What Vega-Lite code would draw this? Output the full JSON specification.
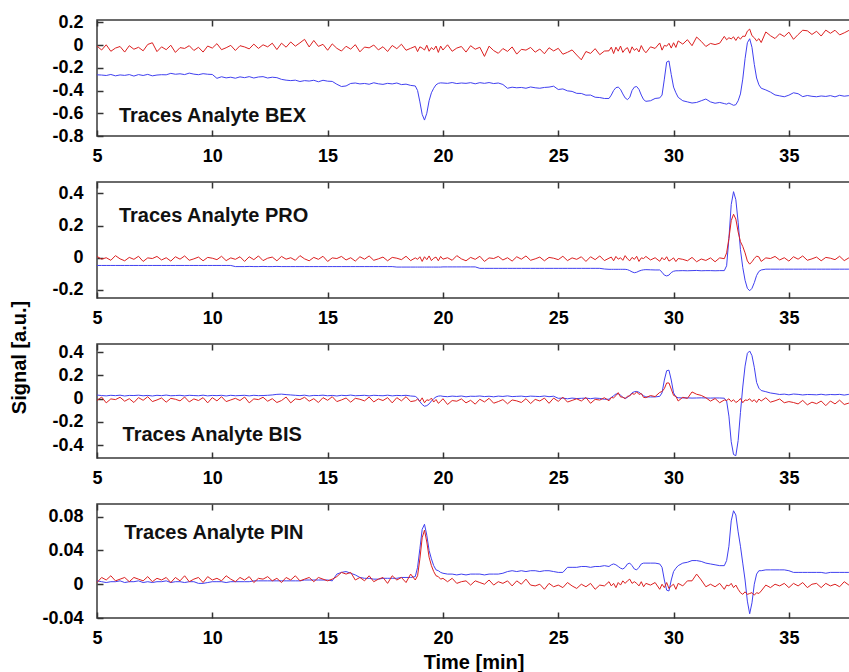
{
"$schema":"https://vega.github.io/schema/vega-lite/v6.json",
"background":"white",
"padding":{"left":8,"top":12,"right":0,"bottom":0},
"bounds":"flush",
"spacing":46,
"config":{
"view":{"stroke":"#3a3a3a","strokeWidth":1.5},
"axis":{"labelFont":"Liberation Sans","labelFontSize":18,"labelFontWeight":"bold","labelColor":"#000000","ticks":true,"tickColor":"#333333","tickSize":6,"offset":-6,"tickWidth":1.5,"domain":false,"grid":false,"labelOverlap":false,"labelFlush":false,"titleFont":"Liberation Sans","titleFontSize":20,"titleFontWeight":"bold","titleColor":"#000000"},
"line":{"strokeWidth":1,"clip":true},
"text":{"font":"Liberation Sans","fontSize":20,"fontWeight":"bold","align":"left","baseline":"alphabetic","fill":"#111111"}
},
"datasets":{"d":[
{"t":5.0,"r1":-0.009,"b1":-0.262,"r2":0.008,"b2":-0.048,"r3":-0.016,"b3":0.031,"r4":0.002,"b4":0.004},
{"t":5.2,"r1":-0.044,"b1":-0.264,"r2":-0.009,"b2":-0.048,"r3":0.014,"b3":0.027,"r4":0.008,"b4":0.003},
{"t":5.4,"r1":0.002,"b1":-0.268,"r2":0.000,"b2":-0.048,"r3":-0.036,"b3":0.024,"r4":0.005,"b4":0.002},
{"t":5.6,"r1":-0.055,"b1":-0.259,"r2":-0.016,"b2":-0.048,"r3":-0.002,"b3":0.029,"r4":0.010,"b4":0.003},
{"t":5.8,"r1":-0.027,"b1":-0.271,"r2":0.013,"b2":-0.048,"r3":-0.008,"b3":0.026,"r4":0.004,"b4":0.003},
{"t":6.0,"r1":-0.013,"b1":-0.263,"r2":-0.007,"b2":-0.048,"r3":0.012,"b3":0.030,"r4":0.006,"b4":0.004},
{"t":6.2,"r1":-0.062,"b1":-0.267,"r2":-0.019,"b2":-0.048,"r3":-0.022,"b3":0.023,"r4":0.008,"b4":0.002},
{"t":6.4,"r1":-0.006,"b1":-0.260,"r2":0.002,"b2":-0.048,"r3":0.000,"b3":0.028,"r4":0.003,"b4":0.003},
{"t":6.6,"r1":-0.037,"b1":-0.273,"r2":-0.010,"b2":-0.048,"r3":-0.033,"b3":0.027,"r4":0.008,"b4":0.003},
{"t":6.8,"r1":-0.020,"b1":-0.260,"r2":0.009,"b2":-0.048,"r3":0.009,"b3":0.030,"r4":0.006,"b4":0.004},
{"t":7.0,"r1":-0.051,"b1":-0.268,"r2":-0.023,"b2":-0.048,"r3":-0.014,"b3":0.025,"r4":0.004,"b4":0.002},
{"t":7.2,"r1":0.005,"b1":-0.258,"r2":-0.001,"b2":-0.048,"r3":0.017,"b3":0.028,"r4":0.009,"b4":0.003},
{"t":7.4,"r1":0.020,"b1":-0.271,"r2":-0.005,"b2":-0.048,"r3":-0.025,"b3":0.023,"r4":0.003,"b4":0.002},
{"t":7.6,"r1":-0.058,"b1":-0.264,"r2":0.008,"b2":-0.048,"r3":-0.011,"b3":0.029,"r4":0.007,"b4":0.003},
{"t":7.8,"r1":-0.016,"b1":-0.261,"r2":-0.014,"b2":-0.048,"r3":0.006,"b3":0.026,"r4":0.005,"b4":0.003},
{"t":8.0,"r1":-0.041,"b1":-0.262,"r2":0.000,"b2":-0.048,"r3":-0.030,"b3":0.031,"r4":0.008,"b4":0.004},
{"t":8.2,"r1":-0.002,"b1":-0.249,"r2":-0.021,"b2":-0.048,"r3":0.003,"b3":0.025,"r4":0.002,"b4":0.002},
{"t":8.4,"r1":-0.065,"b1":-0.257,"r2":0.006,"b2":-0.048,"r3":-0.005,"b3":0.027,"r4":0.008,"b4":0.003},
{"t":8.6,"r1":-0.023,"b1":-0.253,"r2":-0.009,"b2":-0.048,"r3":-0.019,"b3":0.029,"r4":0.004,"b4":0.003},
{"t":8.8,"r1":-0.030,"b1":-0.260,"r2":0.011,"b2":-0.048,"r3":0.014,"b3":0.024,"r4":0.010,"b4":0.002},
{"t":9.0,"r1":-0.006,"b1":-0.247,"r2":-0.016,"b2":-0.048,"r3":-0.028,"b3":0.029,"r4":0.003,"b4":0.003},
{"t":9.2,"r1":-0.048,"b1":-0.256,"r2":-0.007,"b2":-0.048,"r3":-0.002,"b3":0.027,"r4":0.006,"b4":0.003},
{"t":9.4,"r1":-0.020,"b1":-0.261,"r2":0.004,"b2":-0.048,"r3":-0.016,"b3":0.025,"r4":0.008,"b4":0.001},
{"t":9.6,"r1":-0.062,"b1":-0.252,"r2":-0.019,"b2":-0.048,"r3":0.009,"b3":0.030,"r4":0.002,"b4":0.001},
{"t":9.8,"r1":-0.009,"b1":-0.257,"r2":0.002,"b2":-0.048,"r3":-0.036,"b3":0.024,"r4":0.009,"b4":0.002},
{"t":10.0,"r1":-0.027,"b1":-0.259,"r2":-0.003,"b2":-0.048,"r3":0.009,"b3":0.028,"r4":0.005,"b4":0.003},
{"t":10.2,"r1":0.012,"b1":-0.293,"r2":-0.012,"b2":-0.048,"r3":-0.019,"b3":0.026,"r4":0.007,"b4":0.003},
{"t":10.4,"r1":-0.041,"b1":-0.279,"r2":0.009,"b2":-0.048,"r3":0.017,"b3":0.029,"r4":0.004,"b4":0.003},
{"t":10.6,"r1":-0.024,"b1":-0.289,"r2":-0.018,"b2":-0.048,"r3":-0.025,"b3":0.023,"r4":0.010,"b4":0.002},
{"t":10.8,"r1":-0.003,"b1":-0.283,"r2":-0.001,"b2":-0.048,"r3":-0.011,"b3":0.029,"r4":0.006,"b4":0.003},
{"t":11.0,"r1":-0.048,"b1":-0.292,"r2":-0.010,"b2":-0.055,"r3":0.003,"b3":0.025,"r4":0.003,"b4":0.003},
{"t":11.2,"r1":-0.006,"b1":-0.280,"r2":0.006,"b2":-0.055,"r3":-0.016,"b3":0.027,"r4":0.008,"b4":0.003},
{"t":11.4,"r1":-0.017,"b1":-0.287,"r2":-0.023,"b2":-0.055,"r3":0.014,"b3":0.029,"r4":0.005,"b4":0.003},
{"t":11.6,"r1":-0.034,"b1":-0.278,"r2":0.006,"b2":-0.054,"r3":-0.036,"b3":0.024,"r4":0.009,"b4":0.003},
{"t":11.8,"r1":0.008,"b1":-0.290,"r2":-0.012,"b2":-0.055,"r3":-0.002,"b3":0.029,"r4":0.002,"b4":0.004},
{"t":12.0,"r1":-0.030,"b1":-0.281,"r2":0.011,"b2":-0.055,"r3":-0.008,"b3":0.026,"r4":0.007,"b4":0.004},
{"t":12.2,"r1":0.002,"b1":-0.278,"r2":-0.018,"b2":-0.054,"r3":0.012,"b3":0.027,"r4":0.006,"b4":0.004},
{"t":12.4,"r1":-0.016,"b1":-0.290,"r2":-0.003,"b2":-0.055,"r3":-0.022,"b3":0.029,"r4":0.009,"b4":0.004},
{"t":12.6,"r1":0.016,"b1":-0.283,"r2":0.004,"b2":-0.055,"r3":0.000,"b3":0.032,"r4":0.004,"b4":0.004},
{"t":12.8,"r1":-0.040,"b1":-0.287,"r2":-0.019,"b2":-0.054,"r3":-0.033,"b3":0.037,"r4":0.007,"b4":0.004},
{"t":13.0,"r1":0.016,"b1":-0.302,"r2":0.008,"b2":-0.055,"r3":-0.016,"b3":0.039,"r4":0.002,"b4":0.004},
{"t":13.2,"r1":-0.019,"b1":-0.309,"r2":-0.009,"b2":-0.055,"r3":0.014,"b3":0.035,"r4":0.008,"b4":0.004},
{"t":13.4,"r1":0.027,"b1":-0.313,"r2":0.000,"b2":-0.055,"r3":-0.036,"b3":0.032,"r4":0.005,"b4":0.004},
{"t":13.6,"r1":-0.010,"b1":-0.309,"r2":-0.016,"b2":-0.055,"r3":-0.002,"b3":0.029,"r4":0.010,"b4":0.004},
{"t":13.8,"r1":0.019,"b1":-0.321,"r2":0.013,"b2":-0.055,"r3":-0.008,"b3":0.026,"r4":0.004,"b4":0.004},
{"t":14.0,"r1":0.050,"b1":-0.313,"r2":-0.007,"b2":-0.055,"r3":0.012,"b3":0.030,"r4":0.006,"b4":0.005},
{"t":14.2,"r1":-0.017,"b1":-0.317,"r2":-0.019,"b2":-0.055,"r3":-0.022,"b3":0.023,"r4":0.008,"b4":0.005},
{"t":14.4,"r1":0.040,"b1":-0.310,"r2":0.002,"b2":-0.055,"r3":0.000,"b3":0.028,"r4":0.003,"b4":0.005},
{"t":14.6,"r1":-0.012,"b1":-0.323,"r2":-0.010,"b2":-0.055,"r3":-0.033,"b3":0.027,"r4":0.008,"b4":0.005},
{"t":14.8,"r1":0.006,"b1":-0.310,"r2":0.009,"b2":-0.055,"r3":0.009,"b3":0.030,"r4":0.006,"b4":0.005},
{"t":15.0,"r1":-0.046,"b1":-0.318,"r2":-0.023,"b2":-0.055,"r3":-0.014,"b3":0.025,"r4":0.004,"b4":0.005},
{"t":15.2,"r1":0.010,"b1":-0.320,"r2":-0.001,"b2":-0.055,"r3":0.017,"b3":0.028,"r4":0.006,"b4":0.004},
{"t":15.4,"r1":-0.029,"b1":-0.345,"r2":-0.005,"b2":-0.055,"r3":-0.025,"b3":0.023,"r4":0.009,"b4":0.012},
{"t":15.6,"r1":-0.053,"b1":-0.365,"r2":0.008,"b2":-0.055,"r3":-0.011,"b3":0.029,"r4":0.014,"b4":0.014},
{"t":15.8,"r1":-0.011,"b1":-0.360,"r2":-0.014,"b2":-0.055,"r3":0.006,"b3":0.026,"r4":0.012,"b4":0.015},
{"t":16.0,"r1":-0.036,"b1":-0.338,"r2":0.000,"b2":-0.055,"r3":-0.030,"b3":0.031,"r4":0.014,"b4":0.013},
{"t":16.2,"r1":0.003,"b1":-0.334,"r2":-0.021,"b2":-0.055,"r3":0.003,"b3":0.025,"r4":0.005,"b4":0.011},
{"t":16.4,"r1":-0.060,"b1":-0.342,"r2":0.006,"b2":-0.055,"r3":-0.005,"b3":0.027,"r4":0.008,"b4":0.008},
{"t":16.6,"r1":-0.018,"b1":-0.338,"r2":-0.009,"b2":-0.055,"r3":-0.019,"b3":0.029,"r4":0.004,"b4":0.007},
{"t":16.8,"r1":-0.025,"b1":-0.345,"r2":0.011,"b2":-0.055,"r3":0.014,"b3":0.024,"r4":0.010,"b4":0.007},
{"t":17.0,"r1":0.000,"b1":-0.332,"r2":-0.016,"b2":-0.055,"r3":-0.028,"b3":0.029,"r4":0.003,"b4":0.006},
{"t":17.2,"r1":-0.043,"b1":-0.341,"r2":-0.007,"b2":-0.055,"r3":-0.002,"b3":0.027,"r4":0.006,"b4":0.006},
{"t":17.4,"r1":-0.015,"b1":-0.346,"r2":0.004,"b2":-0.055,"r3":-0.016,"b3":0.025,"r4":0.008,"b4":0.007},
{"t":17.6,"r1":-0.057,"b1":-0.337,"r2":-0.019,"b2":-0.055,"r3":0.009,"b3":0.030,"r4":0.001,"b4":0.007},
{"t":17.8,"r1":-0.004,"b1":-0.342,"r2":0.002,"b2":-0.055,"r3":-0.036,"b3":0.024,"r4":0.010,"b4":0.007},
{"t":18.0,"r1":-0.032,"b1":-0.334,"r2":-0.003,"b2":-0.058,"r3":0.009,"b3":0.028,"r4":0.005,"b4":0.007},
{"t":18.2,"r1":0.007,"b1":-0.348,"r2":-0.012,"b2":-0.058,"r3":-0.019,"b3":0.026,"r4":0.008,"b4":0.008},
{"t":18.4,"r1":-0.046,"b1":-0.344,"r2":0.009,"b2":-0.058,"r3":0.017,"b3":0.029,"r4":0.002,"b4":0.008},
{"t":18.6,"r1":-0.029,"b1":-0.355,"r2":-0.018,"b2":-0.058,"r3":-0.025,"b3":0.023,"r4":0.012,"b4":0.008},
{"t":18.8,"r1":-0.012,"b1":-0.360,"r2":-0.001,"b2":-0.058,"r3":-0.018,"b3":0.020,"r4":0.005,"b4":0.009},
{"t":18.9,"r1":-0.058,"b1":-0.400,"r2":-0.010,"b2":-0.058,"r3":-0.004,"b3":0.005,"r4":0.010,"b4":0.020},
{"t":19.0,"r1":-0.016,"b1":-0.500,"r2":0.006,"b2":-0.058,"r3":-0.023,"b3":-0.025,"r4":0.030,"b4":0.042},
{"t":19.1,"r1":-0.027,"b1":-0.610,"r2":-0.023,"b2":-0.058,"r3":0.007,"b3":-0.050,"r4":0.055,"b4":0.065},
{"t":19.2,"r1":-0.044,"b1":-0.660,"r2":0.006,"b2":-0.058,"r3":-0.035,"b3":-0.065,"r4":0.064,"b4":0.071},
{"t":19.3,"r1":-0.002,"b1":-0.600,"r2":-0.012,"b2":-0.058,"r3":-0.010,"b3":-0.060,"r4":0.050,"b4":0.058},
{"t":19.4,"r1":-0.055,"b1":-0.490,"r2":0.011,"b2":-0.058,"r3":-0.015,"b3":-0.045,"r4":0.032,"b4":0.040},
{"t":19.5,"r1":-0.023,"b1":-0.420,"r2":-0.018,"b2":-0.058,"r3":0.005,"b3":-0.020,"r4":0.022,"b4":0.030},
{"t":19.6,"r1":-0.041,"b1":-0.380,"r2":-0.003,"b2":-0.058,"r3":-0.029,"b3":0.000,"r4":0.015,"b4":0.022},
{"t":19.7,"r1":-0.009,"b1":-0.350,"r2":0.004,"b2":-0.058,"r3":-0.007,"b3":0.015,"r4":0.010,"b4":0.017},
{"t":19.8,"r1":-0.065,"b1":-0.337,"r2":-0.019,"b2":-0.058,"r3":-0.040,"b3":0.022,"r4":0.009,"b4":0.016},
{"t":19.9,"r1":-0.009,"b1":-0.333,"r2":0.008,"b2":-0.058,"r3":-0.023,"b3":0.024,"r4":0.006,"b4":0.014},
{"t":20.0,"r1":-0.044,"b1":-0.334,"r2":-0.009,"b2":-0.057,"r3":0.000,"b3":0.020,"r4":0.007,"b4":0.013},
{"t":20.2,"r1":0.002,"b1":-0.337,"r2":0.000,"b2":-0.057,"r3":-0.050,"b3":0.017,"r4":0.003,"b4":0.012},
{"t":20.4,"r1":-0.055,"b1":-0.330,"r2":-0.016,"b2":-0.057,"r3":-0.016,"b3":0.022,"r4":0.007,"b4":0.012},
{"t":20.6,"r1":-0.027,"b1":-0.339,"r2":0.013,"b2":-0.057,"r3":-0.022,"b3":0.019,"r4":0.001,"b4":0.011},
{"t":20.8,"r1":-0.013,"b1":-0.334,"r2":-0.007,"b2":-0.057,"r3":-0.002,"b3":0.023,"r4":0.003,"b4":0.012},
{"t":21.0,"r1":-0.062,"b1":-0.337,"r2":-0.019,"b2":-0.057,"r3":-0.036,"b3":0.016,"r4":0.004,"b4":0.011},
{"t":21.2,"r1":-0.006,"b1":-0.331,"r2":0.002,"b2":-0.057,"r3":-0.014,"b3":0.021,"r4":-0.001,"b4":0.012},
{"t":21.4,"r1":-0.037,"b1":-0.341,"r2":-0.010,"b2":-0.057,"r3":-0.047,"b3":0.020,"r4":0.004,"b4":0.012},
{"t":21.6,"r1":-0.020,"b1":-0.331,"r2":0.009,"b2":-0.066,"r3":-0.005,"b3":0.023,"r4":0.002,"b4":0.012},
{"t":21.8,"r1":-0.100,"b1":-0.337,"r2":-0.023,"b2":-0.066,"r3":-0.028,"b3":0.018,"r4":0.000,"b4":0.011},
{"t":22.0,"r1":-0.010,"b1":-0.330,"r2":-0.001,"b2":-0.066,"r3":0.003,"b3":0.021,"r4":0.005,"b4":0.012},
{"t":22.2,"r1":-0.049,"b1":-0.339,"r2":-0.005,"b2":-0.066,"r3":-0.039,"b3":0.016,"r4":-0.001,"b4":0.012},
{"t":22.4,"r1":-0.073,"b1":-0.334,"r2":0.008,"b2":-0.066,"r3":-0.025,"b3":0.022,"r4":0.003,"b4":0.012},
{"t":22.6,"r1":-0.031,"b1":-0.347,"r2":-0.014,"b2":-0.066,"r3":-0.008,"b3":0.019,"r4":0.001,"b4":0.013},
{"t":22.8,"r1":-0.056,"b1":-0.380,"r2":0.000,"b2":-0.066,"r3":-0.044,"b3":0.024,"r4":0.004,"b4":0.015},
{"t":23.0,"r1":-0.017,"b1":-0.371,"r2":-0.021,"b2":-0.066,"r3":-0.011,"b3":0.018,"r4":-0.002,"b4":0.016},
{"t":23.2,"r1":-0.080,"b1":-0.376,"r2":0.006,"b2":-0.066,"r3":-0.019,"b3":0.020,"r4":0.004,"b4":0.015},
{"t":23.4,"r1":-0.038,"b1":-0.373,"r2":-0.009,"b2":-0.066,"r3":-0.033,"b3":0.022,"r4":0.000,"b4":0.016},
{"t":23.6,"r1":-0.045,"b1":-0.380,"r2":0.011,"b2":-0.066,"r3":0.000,"b3":0.017,"r4":0.006,"b4":0.015},
{"t":23.8,"r1":-0.021,"b1":-0.369,"r2":-0.016,"b2":-0.066,"r3":-0.042,"b3":0.022,"r4":-0.001,"b4":0.016},
{"t":24.0,"r1":-0.063,"b1":-0.376,"r2":-0.007,"b2":-0.066,"r3":-0.006,"b3":0.020,"r4":-0.002,"b4":0.016},
{"t":24.2,"r1":-0.035,"b1":-0.380,"r2":0.004,"b2":-0.066,"r3":-0.020,"b3":0.018,"r4":0.000,"b4":0.015},
{"t":24.4,"r1":-0.077,"b1":-0.373,"r2":-0.019,"b2":-0.066,"r3":0.005,"b3":0.023,"r4":-0.006,"b4":0.016},
{"t":24.6,"r1":-0.024,"b1":-0.370,"r2":0.002,"b2":-0.066,"r3":-0.040,"b3":0.017,"r4":0.001,"b4":0.016},
{"t":24.8,"r1":-0.052,"b1":-0.362,"r2":-0.003,"b2":-0.066,"r3":0.005,"b3":0.021,"r4":-0.003,"b4":0.015},
{"t":25.0,"r1":-0.029,"b1":-0.391,"r2":-0.012,"b2":-0.066,"r3":-0.023,"b3":0.003,"r4":-0.001,"b4":0.014},
{"t":25.2,"r1":-0.081,"b1":-0.386,"r2":0.009,"b2":-0.066,"r3":0.013,"b3":0.005,"r4":-0.004,"b4":0.014},
{"t":25.4,"r1":-0.064,"b1":-0.403,"r2":-0.018,"b2":-0.066,"r3":-0.029,"b3":-0.001,"r4":0.002,"b4":0.020},
{"t":25.6,"r1":-0.043,"b1":-0.408,"r2":-0.001,"b2":-0.066,"r3":-0.015,"b3":0.005,"r4":-0.002,"b4":0.020},
{"t":25.8,"r1":-0.088,"b1":-0.425,"r2":-0.010,"b2":-0.066,"r3":-0.001,"b3":0.001,"r4":-0.005,"b4":0.020},
{"t":26.0,"r1":-0.130,"b1":-0.426,"r2":0.006,"b2":-0.066,"r3":-0.020,"b3":0.003,"r4":0.000,"b4":0.021},
{"t":26.2,"r1":-0.057,"b1":-0.441,"r2":-0.023,"b2":-0.066,"r3":0.010,"b3":0.005,"r4":-0.003,"b4":0.021},
{"t":26.4,"r1":-0.074,"b1":-0.440,"r2":0.006,"b2":-0.066,"r3":-0.040,"b3":0.000,"r4":0.001,"b4":0.020},
{"t":26.6,"r1":-0.032,"b1":-0.459,"r2":-0.012,"b2":-0.066,"r3":-0.006,"b3":0.005,"r4":-0.006,"b4":0.021},
{"t":26.8,"r1":-0.085,"b1":-0.462,"r2":0.011,"b2":-0.066,"r3":-0.012,"b3":0.002,"r4":-0.001,"b4":0.021},
{"t":27.0,"r1":-0.053,"b1":-0.470,"r2":-0.018,"b2":-0.070,"r3":0.008,"b3":-0.005,"r4":-0.002,"b4":0.022},
{"t":27.2,"r1":-0.051,"b1":-0.470,"r2":-0.003,"b2":-0.072,"r3":-0.018,"b3":-0.005,"r4":0.003,"b4":0.021},
{"t":27.3,"r1":-0.019,"b1":-0.440,"r2":0.004,"b2":-0.072,"r3":0.010,"b3":0.010,"r4":-0.002,"b4":0.023},
{"t":27.4,"r1":-0.075,"b1":-0.400,"r2":-0.019,"b2":-0.072,"r3":0.007,"b3":0.025,"r4":0.001,"b4":0.024},
{"t":27.5,"r1":-0.019,"b1":-0.375,"r2":0.008,"b2":-0.072,"r3":0.026,"b3":0.040,"r4":-0.004,"b4":0.023},
{"t":27.6,"r1":-0.054,"b1":-0.370,"r2":-0.009,"b2":-0.072,"r3":0.052,"b3":0.042,"r4":0.002,"b4":0.021},
{"t":27.7,"r1":-0.009,"b1":-0.390,"r2":0.000,"b2":-0.072,"r3":0.015,"b3":0.030,"r4":-0.001,"b4":0.019},
{"t":27.8,"r1":-0.065,"b1":-0.430,"r2":-0.016,"b2":-0.072,"r3":0.013,"b3":0.012,"r4":0.004,"b4":0.018},
{"t":27.9,"r1":-0.037,"b1":-0.465,"r2":0.013,"b2":-0.072,"r3":0.000,"b3":0.003,"r4":0.001,"b4":0.020},
{"t":28.0,"r1":-0.023,"b1":-0.480,"r2":-0.007,"b2":-0.074,"r3":0.021,"b3":0.010,"r4":0.004,"b4":0.024},
{"t":28.1,"r1":-0.072,"b1":-0.460,"r2":-0.019,"b2":-0.080,"r3":0.023,"b3":0.030,"r4":0.006,"b4":0.025},
{"t":28.2,"r1":-0.016,"b1":-0.400,"r2":0.002,"b2":-0.088,"r3":0.045,"b3":0.050,"r4":0.001,"b4":0.022},
{"t":28.3,"r1":-0.047,"b1":-0.370,"r2":-0.010,"b2":-0.093,"r3":0.037,"b3":0.060,"r4":0.003,"b4":0.018},
{"t":28.4,"r1":-0.030,"b1":-0.365,"r2":0.009,"b2":-0.090,"r3":0.059,"b3":0.062,"r4":0.001,"b4":0.017},
{"t":28.5,"r1":-0.061,"b1":-0.390,"r2":-0.023,"b2":-0.083,"r3":0.037,"b3":0.055,"r4":-0.002,"b4":0.020},
{"t":28.6,"r1":-0.005,"b1":-0.440,"r2":-0.001,"b2":-0.078,"r3":0.044,"b3":0.040,"r4":0.003,"b4":0.024},
{"t":28.7,"r1":-0.044,"b1":-0.480,"r2":-0.005,"b2":-0.075,"r3":0.011,"b3":0.025,"r4":-0.003,"b4":0.025},
{"t":28.8,"r1":-0.068,"b1":-0.495,"r2":0.008,"b2":-0.074,"r3":0.009,"b3":0.015,"r4":0.001,"b4":0.025},
{"t":29.0,"r1":-0.016,"b1":-0.490,"r2":-0.014,"b2":-0.075,"r3":0.027,"b3":0.015,"r4":-0.001,"b4":0.025},
{"t":29.2,"r1":-0.030,"b1":-0.470,"r2":0.000,"b2":-0.076,"r3":0.018,"b3":0.015,"r4":0.002,"b4":0.025},
{"t":29.4,"r1":0.018,"b1":-0.465,"r2":-0.022,"b2":-0.076,"r3":0.054,"b3":0.020,"r4":-0.006,"b4":0.024},
{"t":29.5,"r1":-0.045,"b1":-0.440,"r2":0.001,"b2":-0.090,"r3":0.061,"b3":0.050,"r4":0.000,"b4":0.020},
{"t":29.6,"r1":-0.003,"b1":-0.300,"r2":-0.014,"b2":-0.108,"r3":0.086,"b3":0.160,"r4":-0.004,"b4":0.005},
{"t":29.7,"r1":-0.010,"b1":-0.150,"r2":0.006,"b2":-0.113,"r3":0.135,"b3":0.240,"r4":0.002,"b4":-0.007},
{"t":29.8,"r1":0.015,"b1":-0.140,"r2":-0.021,"b2":-0.108,"r3":0.135,"b3":0.245,"r4":-0.005,"b4":-0.008},
{"t":29.9,"r1":-0.027,"b1":-0.260,"r2":-0.012,"b2":-0.092,"r3":0.082,"b3":0.160,"r4":-0.002,"b4":0.005},
{"t":30.0,"r1":0.020,"b1":-0.370,"r2":-0.001,"b2":-0.084,"r3":0.028,"b3":0.050,"r4":0.000,"b4":0.015},
{"t":30.1,"r1":-0.021,"b1":-0.420,"r2":-0.024,"b2":-0.081,"r3":0.020,"b3":0.015,"r4":-0.006,"b4":0.019},
{"t":30.2,"r1":0.036,"b1":-0.460,"r2":-0.005,"b2":-0.081,"r3":-0.020,"b3":0.008,"r4":0.001,"b4":0.022},
{"t":30.4,"r1":0.008,"b1":-0.490,"r2":-0.010,"b2":-0.080,"r3":0.012,"b3":0.006,"r4":-0.002,"b4":0.025},
{"t":30.6,"r1":0.047,"b1":-0.500,"r2":-0.019,"b2":-0.081,"r3":0.002,"b3":0.007,"r4":0.004,"b4":0.026},
{"t":30.8,"r1":-0.006,"b1":-0.510,"r2":0.002,"b2":-0.080,"r3":0.058,"b3":0.005,"r4":0.004,"b4":0.028},
{"t":31.0,"r1":0.070,"b1":-0.505,"r2":-0.025,"b2":-0.079,"r3":0.038,"b3":0.006,"r4":0.012,"b4":0.028},
{"t":31.2,"r1":0.032,"b1":-0.490,"r2":-0.008,"b2":-0.081,"r3":0.028,"b3":0.007,"r4":0.005,"b4":0.027},
{"t":31.4,"r1":-0.013,"b1":-0.475,"r2":-0.017,"b2":-0.080,"r3":0.008,"b3":0.006,"r4":-0.003,"b4":0.025},
{"t":31.6,"r1":0.014,"b1":-0.500,"r2":-0.001,"b2":-0.080,"r3":-0.021,"b3":0.005,"r4":0.000,"b4":0.024},
{"t":31.8,"r1":0.004,"b1":-0.512,"r2":-0.025,"b2":-0.081,"r3":0.001,"b3":0.006,"r4":-0.003,"b4":0.023},
{"t":32.0,"r1":0.016,"b1":-0.505,"r2":-0.001,"b2":-0.080,"r3":-0.035,"b3":0.006,"r4":0.001,"b4":0.022},
{"t":32.2,"r1":0.076,"b1":-0.515,"r2":-0.006,"b2":-0.080,"r3":-0.011,"b3":0.004,"r4":-0.006,"b4":0.022},
{"t":32.3,"r1":0.046,"b1":-0.520,"r2":0.030,"b2":-0.050,"r3":-0.015,"b3":-0.020,"r4":-0.001,"b4":0.028},
{"t":32.4,"r1":0.064,"b1":-0.510,"r2":0.120,"b2":0.120,"r3":-0.001,"b3":-0.150,"r4":-0.002,"b4":0.045},
{"t":32.5,"r1":0.054,"b1":-0.520,"r2":0.230,"b2":0.330,"r3":-0.025,"b3":-0.370,"r4":0.001,"b4":0.075},
{"t":32.6,"r1":0.072,"b1":-0.530,"r2":0.270,"b2":0.410,"r3":-0.009,"b3":-0.480,"r4":-0.004,"b4":0.087},
{"t":32.7,"r1":0.040,"b1":-0.525,"r2":0.240,"b2":0.360,"r3":-0.033,"b3":-0.490,"r4":-0.001,"b4":0.082},
{"t":32.8,"r1":0.072,"b1":-0.490,"r2":0.160,"b2":0.220,"r3":-0.021,"b3":-0.360,"r4":-0.006,"b4":0.062},
{"t":32.9,"r1":0.052,"b1":-0.430,"r2":0.100,"b2":0.050,"r3":0.001,"b3":-0.120,"r4":-0.010,"b4":0.045},
{"t":33.0,"r1":0.078,"b1":-0.300,"r2":0.070,"b2":-0.060,"r3":-0.035,"b3":0.100,"r4":-0.012,"b4":0.025},
{"t":33.1,"r1":0.076,"b1":-0.120,"r2":0.030,"b2":-0.140,"r3":-0.011,"b3":0.280,"r4":-0.009,"b4":0.005},
{"t":33.2,"r1":0.122,"b1":0.020,"r2":-0.020,"b2":-0.190,"r3":-0.015,"b3":0.390,"r4":-0.012,"b4":-0.020},
{"t":33.3,"r1":0.140,"b1":0.055,"r2":-0.040,"b2":-0.205,"r3":-0.001,"b3":0.410,"r4":-0.011,"b4":-0.035},
{"t":33.4,"r1":0.082,"b1":-0.020,"r2":-0.025,"b2":-0.190,"r3":-0.025,"b3":0.370,"r4":-0.010,"b4":-0.022},
{"t":33.5,"r1":0.064,"b1":-0.170,"r2":-0.005,"b2":-0.155,"r3":-0.009,"b3":0.270,"r4":-0.013,"b4":0.000},
{"t":33.6,"r1":0.036,"b1":-0.290,"r2":0.010,"b2":-0.110,"r3":-0.033,"b3":0.140,"r4":-0.010,"b4":0.012},
{"t":33.7,"r1":0.056,"b1":-0.350,"r2":0.005,"b2":-0.085,"r3":-0.003,"b3":0.090,"r4":-0.011,"b4":0.016},
{"t":33.8,"r1":0.022,"b1":-0.380,"r2":-0.023,"b2":-0.076,"r3":-0.020,"b3":0.070,"r4":-0.008,"b4":0.016},
{"t":34.0,"r1":0.115,"b1":-0.395,"r2":-0.001,"b2":-0.071,"r3":0.008,"b3":0.060,"r4":-0.001,"b4":0.017},
{"t":34.2,"r1":0.082,"b1":-0.414,"r2":-0.005,"b2":-0.071,"r3":-0.030,"b3":0.049,"r4":-0.004,"b4":0.017},
{"t":34.4,"r1":0.057,"b1":-0.439,"r2":0.008,"b2":-0.071,"r3":-0.018,"b3":0.043,"r4":0.000,"b4":0.017},
{"t":34.6,"r1":0.099,"b1":-0.447,"r2":-0.014,"b2":-0.071,"r3":-0.003,"b3":0.036,"r4":-0.002,"b4":0.017},
{"t":34.8,"r1":0.075,"b1":-0.455,"r2":0.000,"b2":-0.071,"r3":-0.035,"b3":0.039,"r4":0.001,"b4":0.017},
{"t":35.0,"r1":0.113,"b1":-0.441,"r2":-0.021,"b2":-0.071,"r3":-0.025,"b3":0.033,"r4":-0.004,"b4":0.016},
{"t":35.2,"r1":0.050,"b1":-0.420,"r2":0.006,"b2":-0.071,"r3":-0.033,"b3":0.040,"r4":0.001,"b4":0.014},
{"t":35.4,"r1":0.092,"b1":-0.428,"r2":-0.009,"b2":-0.071,"r3":-0.045,"b3":0.037,"r4":-0.002,"b4":0.014},
{"t":35.6,"r1":0.130,"b1":-0.454,"r2":0.011,"b2":-0.071,"r3":-0.015,"b3":0.032,"r4":0.002,"b4":0.014},
{"t":35.8,"r1":0.125,"b1":-0.444,"r2":-0.016,"b2":-0.071,"r3":-0.053,"b3":0.036,"r4":-0.004,"b4":0.014},
{"t":36.0,"r1":0.093,"b1":-0.451,"r2":-0.007,"b2":-0.071,"r3":-0.030,"b3":0.035,"r4":0.000,"b4":0.014},
{"t":36.2,"r1":0.121,"b1":-0.455,"r2":0.004,"b2":-0.071,"r3":-0.043,"b3":0.033,"r4":0.001,"b4":0.014},
{"t":36.4,"r1":0.079,"b1":-0.448,"r2":-0.019,"b2":-0.071,"r3":-0.020,"b3":0.038,"r4":-0.004,"b4":0.014},
{"t":36.6,"r1":0.131,"b1":-0.452,"r2":0.002,"b2":-0.071,"r3":-0.060,"b3":0.032,"r4":0.001,"b4":0.013},
{"t":36.8,"r1":0.103,"b1":-0.445,"r2":-0.003,"b2":-0.071,"r3":-0.020,"b3":0.036,"r4":-0.002,"b4":0.014},
{"t":37.0,"r1":0.130,"b1":-0.456,"r2":-0.012,"b2":-0.071,"r3":-0.045,"b3":0.034,"r4":0.000,"b4":0.014},
{"t":37.2,"r1":0.089,"b1":-0.442,"r2":0.009,"b2":-0.071,"r3":-0.013,"b3":0.037,"r4":-0.003,"b4":0.014},
{"t":37.4,"r1":0.107,"b1":-0.450,"r2":-0.018,"b2":-0.071,"r3":-0.050,"b3":0.031,"r4":0.003,"b4":0.014},
{"t":37.6,"r1":0.128,"b1":-0.445,"r2":-0.001,"b2":-0.071,"r3":-0.038,"b3":0.037,"r4":-0.001,"b4":0.014},
{"t":37.8,"r1":0.082,"b1":-0.452,"r2":-0.010,"b2":-0.071,"r3":-0.025,"b3":0.033,"r4":-0.004,"b4":0.014}
]},
"vconcat":[
{"width":753,"height":116,"resolve":{"axis":{"x":"independent","y":"independent"}},"layer":[
{"data":{"name":"d"},"mark":{"type":"line","color":"#4040f0"},"encoding":{
"x":{"field":"t","type":"quantitative","scale":{"domain":[5,37.65],"nice":false,"zero":false},"axis":{"orient":"bottom","values":[5,10,15,20,25,30,35],"title":null,"labelPadding":11}},
"y":{"field":"b1","type":"quantitative","scale":{"domain":[-0.8,0.22],"nice":false,"zero":false},"axis":{"orient":"left","values":[-0.8,-0.6,-0.4,-0.2,0,0.2],"title":null,"labelPadding":14,"format":"~g","labelExpr":"replace(datum.label, '−', '-')"}}}},
{"data":{"name":"d"},"mark":{"type":"line","color":"#dc2020"},"encoding":{
"x":{"field":"t","type":"quantitative","scale":{"domain":[5,37.65],"nice":false,"zero":false},"axis":{"orient":"top","values":[5,10,15,20,25,30,35],"title":null,"labels":false}},
"y":{"field":"r1","type":"quantitative","scale":{"domain":[-0.8,0.22],"nice":false,"zero":false},"axis":null}}},
{"data":{"values":[{}]},"mark":{"type":"text"},"encoding":{
"x":{"datum":5.95,"type":"quantitative","axis":null},
"y":{"datum":-0.675,"type":"quantitative","axis":null},
"text":{"value":"Traces Analyte BEX"}}}
]},
{"width":753,"height":116,"resolve":{"axis":{"x":"independent","y":"independent"}},"layer":[
{"data":{"name":"d"},"mark":{"type":"line","color":"#4040f0"},"encoding":{
"x":{"field":"t","type":"quantitative","scale":{"domain":[5,37.65],"nice":false,"zero":false},"axis":{"orient":"bottom","values":[5,10,15,20,25,30,35],"title":null,"labelPadding":11}},
"y":{"field":"b2","type":"quantitative","scale":{"domain":[-0.25,0.47],"nice":false,"zero":false},"axis":{"orient":"left","values":[-0.2,0,0.2,0.4],"title":null,"labelPadding":14,"format":"~g","labelExpr":"replace(datum.label, '−', '-')"}}}},
{"data":{"name":"d"},"mark":{"type":"line","color":"#dc2020"},"encoding":{
"x":{"field":"t","type":"quantitative","scale":{"domain":[5,37.65],"nice":false,"zero":false},"axis":{"orient":"top","values":[5,10,15,20,25,30,35],"title":null,"labels":false}},
"y":{"field":"r2","type":"quantitative","scale":{"domain":[-0.25,0.47],"nice":false,"zero":false},"axis":null}}},
{"data":{"values":[{}]},"mark":{"type":"text"},"encoding":{
"x":{"datum":5.95,"type":"quantitative","axis":null},
"y":{"datum":0.221,"type":"quantitative","axis":null},
"text":{"value":"Traces Analyte PRO"}}}
]},
{"width":753,"height":114,"resolve":{"axis":{"x":"independent","y":"independent"}},"layer":[
{"data":{"name":"d"},"mark":{"type":"line","color":"#4040f0"},"encoding":{
"x":{"field":"t","type":"quantitative","scale":{"domain":[5,37.65],"nice":false,"zero":false},"axis":{"orient":"bottom","values":[5,10,15,20,25,30,35],"title":null,"labelPadding":11}},
"y":{"field":"b3","type":"quantitative","scale":{"domain":[-0.51,0.47],"nice":false,"zero":false},"axis":{"orient":"left","values":[-0.4,-0.2,0,0.2,0.4],"title":"Signal [a.u.]","titleX":-78,"titleY":13,"titleAngle":270,"titleAlign":"center","titleBaseline":"alphabetic","labelPadding":14,"format":"~g","labelExpr":"replace(datum.label, '−', '-')"}}}},
{"data":{"name":"d"},"mark":{"type":"line","color":"#dc2020"},"encoding":{
"x":{"field":"t","type":"quantitative","scale":{"domain":[5,37.65],"nice":false,"zero":false},"axis":{"orient":"top","values":[5,10,15,20,25,30,35],"title":null,"labels":false}},
"y":{"field":"r3","type":"quantitative","scale":{"domain":[-0.51,0.47],"nice":false,"zero":false},"axis":null}}},
{"data":{"values":[{}]},"mark":{"type":"text"},"encoding":{
"x":{"datum":6.11,"type":"quantitative","axis":null},
"y":{"datum":-0.367,"type":"quantitative","axis":null},
"text":{"value":"Traces Analyte BIS"}}}
]},
{"width":753,"height":114,"resolve":{"axis":{"x":"independent","y":"independent"}},"layer":[
{"data":{"name":"d"},"mark":{"type":"line","color":"#4040f0"},"encoding":{
"x":{"field":"t","type":"quantitative","scale":{"domain":[5,37.65],"nice":false,"zero":false},"axis":{"orient":"bottom","values":[5,10,15,20,25,30,35],"title":"Time [min]","titleY":40.5,"titleBaseline":"top","labelPadding":11}},
"y":{"field":"b4","type":"quantitative","scale":{"domain":[-0.04,0.095],"nice":false,"zero":false},"axis":{"orient":"left","values":[-0.04,0,0.04,0.08],"title":null,"labelPadding":14,"format":"~g","labelExpr":"replace(datum.label, '−', '-')"}}}},
{"data":{"name":"d"},"mark":{"type":"line","color":"#dc2020"},"encoding":{
"x":{"field":"t","type":"quantitative","scale":{"domain":[5,37.65],"nice":false,"zero":false},"axis":{"orient":"top","values":[5,10,15,20,25,30,35],"title":null,"labels":false}},
"y":{"field":"r4","type":"quantitative","scale":{"domain":[-0.04,0.095],"nice":false,"zero":false},"axis":null}}},
{"data":{"values":[{}]},"mark":{"type":"text"},"encoding":{
"x":{"datum":6.18,"type":"quantitative","axis":null},
"y":{"datum":0.0532,"type":"quantitative","axis":null},
"text":{"value":"Traces Analyte PIN"}}}
]}
]
}
